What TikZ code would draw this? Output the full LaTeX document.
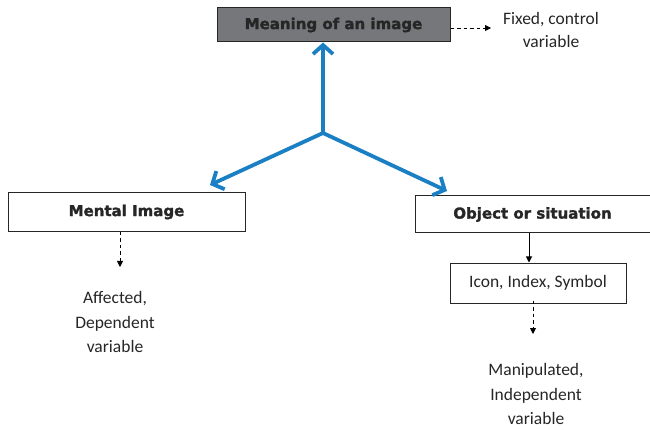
\documentclass[tikz,border=0pt]{standalone}
\usepackage{fontspec}
\setmainfont{Carlito}
\newfontfamily\boldsans[BoldFeatures={FakeBold=1.6}]{DejaVu Sans}
\usetikzlibrary{arrows.meta}
\definecolor{linkblue}{HTML}{1B7FC4}
\definecolor{boxgray}{HTML}{75777A}
\definecolor{inkgray}{HTML}{262626}
\tikzset{
  headbox/.style={draw=inkgray, line width=1pt, inner sep=0pt,
    font={\boldsans\bfseries\fontsize{15}{18}\selectfont}, text=inkgray},
  plainbox/.style={draw=inkgray, line width=1pt, inner sep=0pt,
    font={\fontsize{17.5}{21}\selectfont}, text=inkgray},
  note/.style={align=center, text=inkgray,
    font={\fontsize{17.5}{24.5}\selectfont}},
  bluearr/.style={draw=linkblue, line width=3.8pt, line cap=round,
    -{Straight Barb[length=9pt,width=20pt,line width=3.8pt]}},
  dasharr/.style={line width=0.9pt, dash pattern=on 3.5pt off 3pt,
    -{Triangle[length=6pt,width=6pt]}},
  solidarr/.style={line width=0.9pt, -{Triangle[length=6pt,width=6pt]}}
}
\begin{document}
\begin{tikzpicture}[x=1pt,y=-1pt]
\useasboundingbox (0,0) rectangle (650,430);

% boxes
\node[headbox, fill=boxgray, minimum width=233pt, minimum height=34pt] (meaning) at (333.5,25) {Meaning of an image};
\node[headbox, minimum width=237pt, minimum height=39pt] (mental) at (126.5,212) {Mental Image};
\node[headbox, minimum width=235pt, minimum height=37pt] (object) at (532.5,214.5) {Object or situation};
\node[plainbox, minimum width=176pt, minimum height=40pt] (icon) at (538,283) {Icon, Index, Symbol};

% notes
\node[note] (fixed) at (551,29.5) {Fixed, control\\[-1.5pt]variable};
\node[note] (affected) at (115,322) {Affected,\\Dependent\\variable};
\node[note] (manip) at (536,394) {Manipulated,\\Independent\\variable};

% blue arrows
\coordinate (hub) at (323,133);
\coordinate (mtip) at (210,185);
\coordinate (otip) at (447,191);
\draw[bluearr] (hub) -- (hub |- meaning.south);
\draw[bluearr] (hub) -- (mtip);
\draw[bluearr] (hub) -- (otip);

% small arrows
\coordinate (ftail) at (491,28);
\coordinate (mtail) at (120,267);
\coordinate (itail) at (533,334);
\draw[dasharr] (meaning.east |- ftail) -- (ftail);
\draw[dasharr] (mental.south -| mtail) -- (mtail);
\draw[solidarr] ([xshift=-3.5pt]object.south) -- ([xshift=-3.5pt]object.south |- icon.north);
\draw[dasharr] ([yshift=3pt]icon.south -| itail) -- (itail);
\end{tikzpicture}
\end{document}
